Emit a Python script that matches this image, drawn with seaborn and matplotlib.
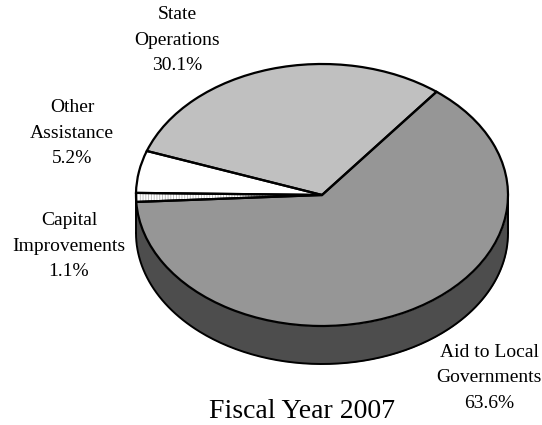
import numpy as np
import matplotlib
matplotlib.use('Agg')
import matplotlib.pyplot as plt
import seaborn as sns

sns.set_theme(style='white')
plt.rcParams['font.family'] = ['Liberation Serif', 'DejaVu Serif']
plt.rcParams['hatch.linewidth'] = 0.6

labels = ['Aid to Local\nGovernments\n63.6%', 'Capital\nImprovements\n1.1%',
          'Other\nAssistance\n5.2%', 'State\nOperations\n30.1%']
shares = [63.6, 1.1, 5.2, 30.1]
face_colors = ['#969696', '#ffffff', '#ffffff', '#c0c0c0']
title = 'Fiscal Year 2007'

W, H = 542, 425
fig = plt.figure(figsize=(W / 100, H / 100), dpi=100)
ax = fig.add_axes([0, 0, 1, 1])
cx, cy, rx, ry, depth = 322, 195, 186, 131, 38

# side of the cylinder first
t = np.linspace(np.pi, 2 * np.pi, 200)
xs = rx * np.cos(t)
ys = ry * np.sin(t)
ax.fill_between(cx + xs, (H - cy) + ys, (H - cy) + ys - depth, color='#4d4d4d', lw=0, zorder=1)
ax.plot(cx + xs, (H - cy) + ys - depth, color='black', lw=1.4, zorder=2)
ax.plot([cx - rx, cx - rx], [H - cy, H - cy - depth], color='black', lw=1.4, zorder=2)
ax.plot([cx + rx, cx + rx], [H - cy, H - cy - depth], color='black', lw=1.4, zorder=2)

# squash the unit pie into the ellipse
tr = matplotlib.transforms.Affine2D().scale(rx, ry).translate(cx, H - cy) + ax.transData

fills, _ = ax.pie(shares, startangle=52, counterclock=False, colors=face_colors,
                  wedgeprops={'linewidth': 0, 'zorder': 3})
fills[1].set_hatch('||||||')
fills[1].set_edgecolor('#b4b4b4')
outlines, _ = ax.pie(shares, startangle=52, counterclock=False,
                     wedgeprops={'facecolor': 'none', 'edgecolor': 'black', 'linewidth': 1.6, 'zorder': 4})
for w in fills + outlines:
    w.set_transform(tr)

ax.set_aspect('auto')
ax.set_xlim(0, W)
ax.set_ylim(0, H)
ax.axis('off')

label_xy = [(489, 378), (69, 246), (72, 133), (177, 40)]
for txt, (x, y) in zip(labels, label_xy):
    ax.text(x, H - y, txt, ha='center', va='center', fontsize=14, linespacing=1.62, color='black')
ax.text(302, H - 412, title, ha='center', va='center', fontsize=20, color='black')

fig.savefig('out.png', dpi=100, facecolor='white')
